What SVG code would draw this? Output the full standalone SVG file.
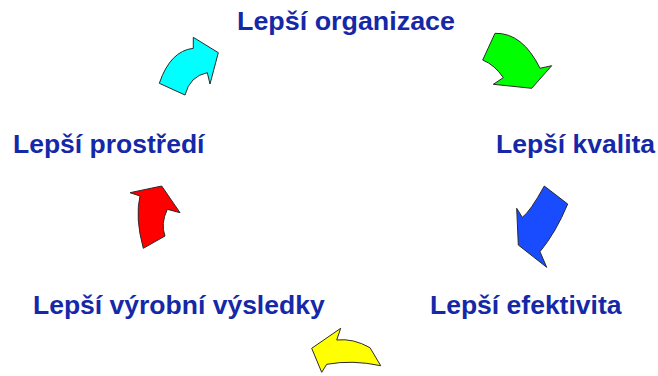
<svg xmlns="http://www.w3.org/2000/svg" width="658" height="376" viewBox="0 0 658 376">
  <style>
    .label { font-family: "Liberation Sans", Arial, sans-serif; font-weight: bold; font-size: 26.5px; fill: #1428a8; }
    .arrow { stroke: #2a2a2a; stroke-width: 1; stroke-linejoin: miter; }
  </style>
  <rect width="658" height="376" fill="#ffffff"/>

  <!-- cycle labels -->
  <g id="organizace"><text class="label" x="237" y="30" textLength="218" lengthAdjust="spacingAndGlyphs">Lepší organizace</text></g>
  <g id="kvalita"><text class="label" x="496" y="153">Lepší kvalita</text></g>
  <g id="efektivita"><text class="label" x="430" y="314">Lepší efektivita</text></g>
  <g id="vysledky"><text class="label" x="33" y="314">Lepší výrobní výsledky</text></g>
  <g id="prostredi"><text class="label" x="13" y="153">Lepší prostředí</text></g>

  <!-- curved block arrows running clockwise between labels -->
  <g id="connectors">
    <path class="arrow" fill="#00ffff" d="M159.3,83.3 Q170.3,50.8 193.3,48.3 L193.3,37.3 L218.3,52.7 L210,84 L207.3,72.7 Q189.8,76.1 185,95 Z"/>
    <path class="arrow" fill="#00ff00" d="M495,33.3 Q522.5,32.6 540,68.3 L551.7,65.7 L531.7,88.3 L493.3,84.3 L503.3,77.7 Q495,65.1 482.7,60 Z"/>
    <path class="arrow" fill="#1a4cff" d="M544.3,186 Q530.1,211.7 522.3,217.3 L516.7,208.3 L518.3,245 L546.7,267.3 L540,251.7 Q556.1,232.1 567.7,204 Z"/>
    <path class="arrow" fill="#ffff00" d="M370,347.7 Q353.2,338.1 336.7,340 L340.7,328.3 L311.7,348.3 L321.7,372.3 L326.7,364.3 Q352.3,359.6 380.7,365.7 Z"/>
    <path class="arrow" fill="#ff0000" d="M143.3,248.3 Q134.9,217.8 140,196 L130,192.7 L161.7,186 L180,212.7 L167.3,209.3 Q160.4,223.9 165,236 Z"/>
  </g>
</svg>
